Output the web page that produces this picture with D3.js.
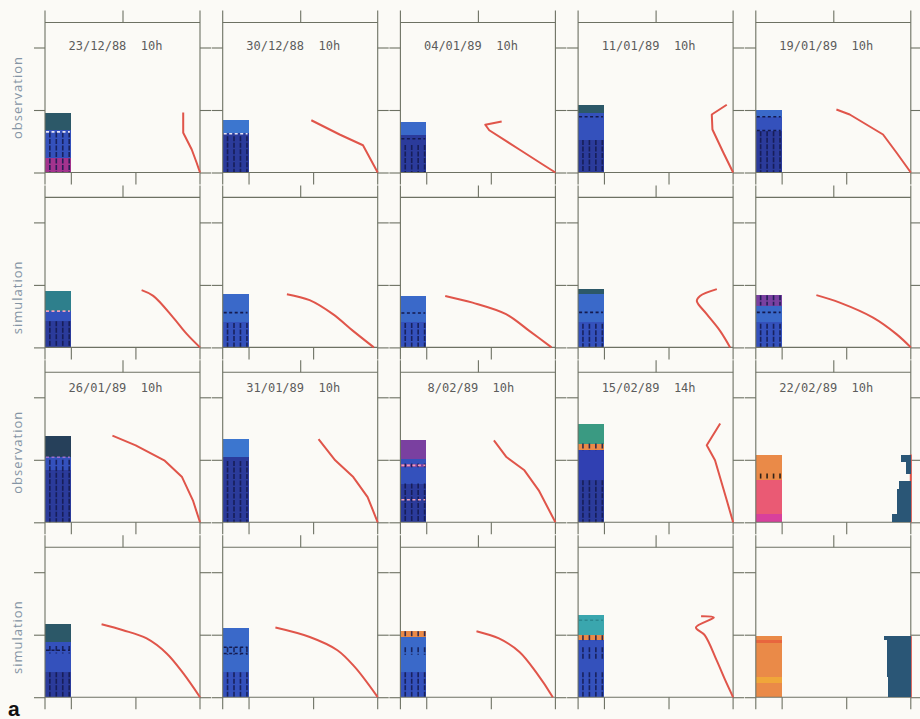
<!DOCTYPE html>
<html><head><meta charset="utf-8">
<script src="https://cdn.jsdelivr.net/npm/d3@7"></script>
<style>html,body{margin:0;padding:0;background:#fbfaf6;} svg{display:block}</style>
</head><body><svg id="c" width="920" height="719"></svg>
<script>
// ---------- DATA ----------
const dates = ["23/12/88  10h","30/12/88  10h","04/01/89  10h","11/01/89  10h","19/01/89  10h",
               "26/01/89  10h","31/01/89  10h","8/02/89  10h","15/02/89  14h","22/02/89  10h"];
const rowLabels = ["observation","simulation","observation","simulation"];
const heightTicks = [0,50,100];     // cm
const tempTicks = [-10,-5];         // degC
const topTicks = [0.5];

// snow layers per panel: [bottom cm, top cm, colour key]
const layers = [
  [[0,12,'magenta'],[12,34,'blue3'],[34,48,'darkteal']],
  [[0,31.7,'blue2'],[31.7,42.4,'lightblue']],
  [[0,30.4,'blue2'],[30.4,40.6,'blue4']],
  [[0,26.4,'blue2'],[26.4,47.8,'blue3'],[47.8,53.8,'darkteal']],
  [[0,33.6,'blue2'],[33.6,44.6,'blue3'],[44.6,50.4,'blue4']],
  [[0,21,'blue2'],[21,29,'blue3'],[29,45.2,'teal']],
  [[0,20,'blue3'],[20,42.6,'blue4']],
  [[0,20,'blue3'],[20,41.2,'blue4']],
  [[0,20,'blue3'],[20,43,'blue4'],[43,46.6,'darkteal']],
  [[0,20,'blue3'],[20,33.5,'blue4'],[33.5,41.8,'purple']],
  [[0,41.6,'blue2'],[41.6,52.2,'blue3'],[52.2,69.4,'darkslate']],
  [[0,52.2,'blue2'],[52.2,66.6,'lightblue']],
  [[0,31,'blue2'],[31,44.3,'blue3'],[44.3,47,'purple'],[47,51,'blue3'],[51,65.6,'purple']],
  [[0,33.6,'blue2'],[33.6,57.6,'blue5'],[57.6,63,'orange'],[63,79,'green']],
  [[0,7,'magenta2'],[7,34,'salmon'],[34,54.2,'orange']],
  [[0,20,'blue2'],[20,44.2,'blue3'],[44.2,58.2,'darkteal']],
  [[0,20,'blue3'],[20,55.4,'blue4']],
  [[0,20,'blue3'],[20,48.2,'blue4'],[48.2,52.8,'orange']],
  [[0,20,'blue3'],[20,45.6,'blue3'],[45.6,49.6,'orange'],[49.6,65.6,'cyan']],
  [[0,11,'orange'],[11,16,'yellowOrange'],[16,43.5,'orange'],[43.5,46,'redOrange'],[46,48.8,'orange']]
];
// grain-shape stipple bands: [bottom, top, colour key]
const stipples = [
  [[0,32,'ink']],[[0,29,'ink']],[[0,22,'ink']],[[0,26,'ink']],[[0,33,'ink']],
  [[0,21,'ink']],[[0,19.5,'ink']],[[0,19.5,'ink']],[[0,19,'ink']],[[0,19,'ink'],[33.5,41.8,'ink']],
  [[0,50,'ink']],[[0,49,'ink']],[[0,31,'ink'],[44,47,'ink']],[[0,33.6,'ink'],[57.6,63,'ink']],[[34,39,'black']],
  [[0,20,'ink'],[35,41,'ink']],[[0,20,'ink'],[34,40,'ink']],[[0,20,'ink'],[34,40,'ink'],[48.2,52.8,'ink']],
  [[0,20,'ink'],[30,40,'ink'],[45.6,49.6,'ink']],[]
];
// dashed horizons: [height cm, colour key]
const marks = [
  [[32.5,'white']],[[31,'white']],[[27,'ink']],[[44.6,'ink']],[[44.6,'ink'],[33.6,'ink']],
  [[29,'pink']],[[27.8,'ink']],[[27.5,'ink']],[[28,'ink']],[[28,'ink']],
  [[52,'violet']],[],[[45.5,'pink'],[18,'pink']],[],[],
  [[37.6,'ink']],[[40,'ink'],[35,'ink']],[],[[61.6,'tealLine']],[]
];
// temperature profiles: [height cm, temperature degC]
const temps = [
  [[48,-1.3],[31.8,-1.3],[18.4,-0.64],[7.8,-0.26],[0,0]],
  [[41.8,-5.14],[30.4,-2.95],[21.8,-1.14],[0,0]],
  [[40.8,-4.16],[38.2,-5.43],[33.8,-5.12],[18.4,-2.79],[6.4,-0.98],[0,0]],
  [[54.2,-0.49],[46.4,-1.65],[34.4,-1.6],[15.8,-0.75],[0,0]],
  [[50.4,-5.76],[46.4,-4.73],[30.4,-2.15],[15.8,-1.1],[0,0]],
  [[45.8,-4.52],[41.2,-3.62],[23.8,-2.07],[10.8,-1.03],[0,0]],
  [[42.6,-7.03],[37.8,-5.27],[26.6,-3.47],[13.2,-1.91],[0,-0.3]],
  [[41.2,-8.53],[35.8,-6.41],[26.6,-3.82],[13.2,-2.02],[0,-0.3]],
  [[46.6,-1.26],[41.2,-2.56],[37.2,-2.81],[26.6,-2.04],[13.2,-1.01],[0,-0.23]],
  [[41.8,-7.31],[35.8,-5.5],[23.8,-2.92],[10.6,-1.11],[0,0]],
  [[69.4,-6.78],[61.6,-4.98],[49.6,-2.77],[36.2,-1.39],[17.6,-0.55],[0,0]],
  [[66.6,-4.58],[49.6,-3.29],[36.2,-1.89],[20.2,-0.78],[0,0]],
  [[65.6,-4.76],[52.2,-3.79],[41.6,-2.4],[25.6,-1.29],[0,0]],
  [[79,-1.0],[61.6,-2.04],[49.6,-1.4],[17.6,-0.49],[0,0]],
  [[54.2,0],[0,0]],
  [[58.4,-7.62],[53.6,-5.95],[47,-4.13],[35,-2.58],[19,-1.29],[0,0]],
  [[55.8,-7.92],[48.2,-5.26],[37.6,-3.12],[24.2,-1.78],[0,0]],
  [[52.8,-6.11],[47,-4.37],[36.2,-2.78],[19,-1.43],[0,-0.2]],
  [[64.8,-2.48],[63.8,-1.49],[55.8,-2.88],[49.6,-2.2],[29.6,-1.28],[13.6,-0.61],[0,0]],
  [[48.8,0],[0,0]]
];
// liquid water content blocks (drawn from the right axis): [bottom, top, % vol]
const water = [
  [],[],[],[],[],[],[],[],[],[],[],[],[],[],
  [[48.2,53.6,0.78],[39,48.2,0.39],[27,33,0.9],[7,27,1.1],[0,7,1.42]],
  [],[],[],[],
  [[45.6,48.8,2.05],[16,45.6,1.87],[0,16,1.8]]
];

const pal = {
  blue2:'#2b3b9b', blue3:'#3451bc', blue4:'#3a69c9', blue5:'#3040b2', lightblue:'#3c76cf',
  darkteal:'#2c5868', teal:'#2e7f8c', cyan:'#3aa6ae', green:'#3a9a82', purple:'#7a40a0',
  magenta:'#a3338e', magenta2:'#d8409c', darkslate:'#26405a', orange:'#ea8a48',
  redOrange:'#e8663e', yellowOrange:'#f0a63a', salmon:'#ea5a74',
  ink:'#141a4e', black:'#111111', white:'#e8e4f4', pink:'#f0a0b8', violet:'#9a70d0', tealLine:'#2a8890'
};

// ---------- LAYOUT ----------
const W=920,H=719, pw=155, ph=150;
const colX = j => 45 + j*177.7;
const rowY = i => 22.5 + i*174.9;
const axisColor = '#6d7163';
const svg = d3.select('#c');
svg.append('rect').attr('width',W).attr('height',H).attr('fill','#fbfaf6');

const y = d3.scaleLinear().domain([0,120]).range([ph,0]);
const xT = d3.scaleLinear().domain([-12,0]).range([0,pw]);
const xTop = d3.scaleLinear().domain([0,1]).range([0,pw]);
const xW = d3.scaleLinear().domain([0,12]).range([pw,0]);
const barX0 = xT(-12), barW = xT(-10)-xT(-12);

const labelOffset = [75,100,80,90];

for (let i=0;i<4;i++){
  svg.append('text')
    .attr('transform',`translate(19,${rowY(i)+labelOffset[i]}) rotate(-90)`)
    .attr('text-anchor','middle').attr('dominant-baseline','middle')
    .style('font-family','"Open Sans", sans-serif').style('font-size','13px')
    .style('letter-spacing','1px').attr('fill','#8494a4')
    .text(rowLabels[i]);

  for (let j=0;j<5;j++){
    const p = i*5+j;
    const g = svg.append('g').attr('transform',`translate(${colX(j)},${rowY(i)})`);

    g.selectAll('rect.layer').data(layers[p]).join('rect').attr('class','layer')
      .attr('x',barX0).attr('width',barW)
      .attr('y',d=>y(d[1])).attr('height',d=>y(d[0])-y(d[1]))
      .attr('fill',d=>pal[d[2]]).attr('shape-rendering','crispEdges');

    stipples[p].forEach(([a,b,c])=>{
      [0.75,1.75,2.75,3.75].forEach(k=>{
        g.append('line')
          .attr('x1',barX0+k*barW/4).attr('x2',barX0+k*barW/4)
          .attr('y1',y(b)).attr('y2',y(a))
          .attr('stroke',pal[c]).attr('stroke-width',1.6)
          .attr('stroke-dasharray','5,1.5').attr('opacity',0.85);
      });
    });

    marks[p].forEach(([h,c])=>{
      g.append('line').attr('x1',barX0+1).attr('x2',barX0+barW-1)
        .attr('y1',y(h)).attr('y2',y(h))
        .attr('stroke',pal[c]).attr('stroke-width',1.6).attr('stroke-dasharray','3,2.5');
    });

    const ax = g.append('g').attr('stroke',axisColor).attr('stroke-width',1.1);
    ax.append('line').attr('x1',0).attr('x2',pw).attr('y1',0).attr('y2',0);
    ax.append('line').attr('x1',0).attr('x2',pw).attr('y1',ph).attr('y2',ph);
    ax.append('line').attr('x1',0).attr('x2',0).attr('y1',-12).attr('y2',ph+12);
    ax.append('line').attr('x1',pw).attr('x2',pw).attr('y1',-12).attr('y2',ph+12);

    const style = sel => { sel.select('.domain').remove(); sel.selectAll('line').attr('stroke',axisColor).attr('stroke-width',1.1); sel.selectAll('text').remove(); };
    g.append('g').call(d3.axisLeft(y).tickValues(heightTicks).tickSize(11).tickFormat('')).call(style);
    g.append('g').attr('transform',`translate(${pw},0)`).call(d3.axisRight(y).tickValues(heightTicks).tickSize(11).tickFormat('')).call(style);
    g.append('g').call(d3.axisTop(xTop).tickValues(topTicks).tickSize(12).tickFormat('')).call(style);
    g.append('g').attr('transform',`translate(0,${ph})`).call(d3.axisBottom(xT).tickValues(tempTicks).tickSize(12).tickFormat('')).call(style);

    const line = d3.line().x(d=>xT(d[1])).y(d=>y(d[0]))
      .curve(i%2===1 ? d3.curveCatmullRom.alpha(0.5) : d3.curveLinear);
    g.append('path').attr('d',line(temps[p])).attr('fill','none')
      .attr('stroke','#e0554a').attr('stroke-width',2).attr('stroke-linejoin','round');

    g.selectAll('rect.water').data(water[p]).join('rect').attr('class','water')
      .attr('x',d=>xW(d[2])).attr('width',d=>pw-xW(d[2])+0.6)
      .attr('y',d=>y(d[1])).attr('height',d=>y(d[0])-y(d[1]))
      .attr('fill','#2a5676').attr('shape-rendering','crispEdges');

    if (i%2===0){
      g.append('text').attr('x',pw/2-7).attr('y', i===0 ? 27.5 : 20)
        .attr('text-anchor','middle')
        .style('font-family','"DejaVu Sans Mono", monospace').style('font-size','12px')
        .style('white-space','pre').attr('fill','#5c5c5c')
        .text(dates[(i/2)*5+j]);
    }
  }
}

svg.append('text').attr('x',8).attr('y',716)
  .style('font-family','"Liberation Sans", sans-serif').style('font-size','21px').style('font-weight','bold')
  .attr('fill','#111').text('a');
</script>
</body></html>
